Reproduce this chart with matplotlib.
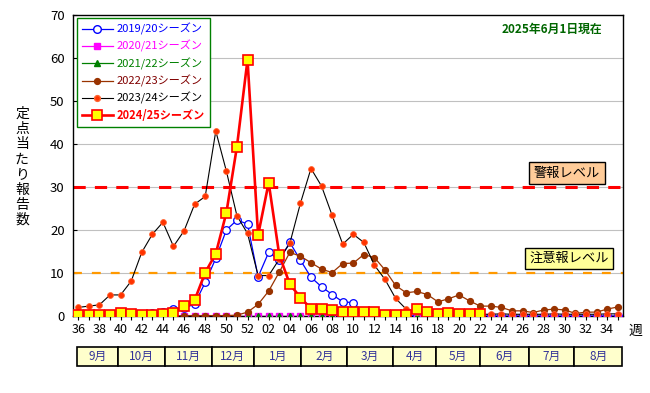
import numpy as np
import matplotlib
matplotlib.use("Agg")
import matplotlib.pyplot as plt
from matplotlib.patches import Rectangle
from matplotlib.lines import Line2D

plt.rcParams['font.family'] = ['Noto Sans CJK JP', 'DejaVu Sans']

# weeks 36..52 then 1..35
weeks = list(range(36, 53)) + list(range(1, 36))

s1920 = [0.2, 0.3, 0.3, 0.4, 0.3, 0.4, 0.5, 0.6, 0.9, 1.6, 1.8, 2.8, 7.8, 13.4, 20.0, 22.3, 21.4,
         9.1, 14.8, 13.0, 17.1, 13.0, 9.0, 6.8, 5.0, 3.3, 3.1, 0.5, 0.2, 0.1, 0.1, 0.1, 0.0, 0.0,
         0.0, 0.0, 0.0, 0.0, 0.0, 0.0, 0.0, 0.0, 0.0, 0.0, 0.0, 0.0, 0.0, 0.0, 0.0, 0.0, 0.0, 0.0]
s2021 = [0.0] * 52
s2122 = [0.0] * 52
s2223 = [0.0, 0.0, 0.0, 0.0, 0.0, 0.0, 0.0, 0.0, 0.0, 0.0, 0.1, 0.1, 0.1, 0.1, 0.1, 0.2, 0.9,
         2.7, 5.8, 10.2, 14.8, 13.9, 12.4, 10.9, 10.1, 12.2, 12.3, 14.3, 13.6, 10.7, 7.1, 5.4, 5.7,
         5.0, 3.3, 4.0, 4.9, 3.5, 2.3, 2.3, 2.0, 1.2, 1.2, 0.8, 1.4, 1.6, 1.4, 0.6, 0.9, 0.9, 1.6, 2.1]
s2324 = [2.0, 2.3, 2.6, 4.9, 4.9, 8.1, 14.8, 19.0, 21.8, 16.2, 19.8, 26.0, 27.8, 43.0, 33.7, 23.3, 19.2,
         9.4, 9.4, 13.2, 16.9, 26.2, 34.3, 30.2, 23.4, 16.7, 19.0, 17.1, 11.8, 8.5, 4.1, 1.6, 1.0,
         0.7, 0.5, 0.4, 0.4, 0.4, 0.4, 0.4, 0.5, 0.4, 0.4, 0.4, 0.4, 0.5, 0.4, 0.4, 0.4, 0.4, 0.5, 0.5]
s2425 = [0.2, 0.2, 0.2, 0.3, 0.6, 0.5, 0.3, 0.3, 0.5, 0.6, 2.4, 3.7, 10.1, 14.5, 24.0, 39.4, 59.6,
         18.8, 31.0, 14.2, 7.4, 4.3, 1.7, 1.7, 1.3, 0.9, 0.9, 0.9, 0.9, 0.3, 0.3, 0.3, 1.6,
         1.0, 0.5, 0.8, 0.4, 0.4, 0.4]

warn_level = 30
caution_level = 10

months = ["9月", "10月", "11月", "12月", "1月", "2月", "3月", "4月", "5月", "6月", "7月", "8月"]
month_edges = [-0.1, 3.8, 8.2, 12.6, 16.6, 21.1, 25.4, 29.8, 33.8, 38.0, 42.6, 46.9, 51.4]

fig = plt.figure(figsize=(6.5, 3.93), dpi=100)
ax = fig.add_axes([73/650, 1-316/393, 550/650, 301/393])

x = np.arange(len(weeks))

ax.set_ylim(0, 70)
ax.set_xlim(-0.5, 51.5)
ax.set_yticks(range(0, 71, 10))
for v in range(10, 70, 10):
    ax.axhline(v, color='#c0c0c0', lw=0.8, zorder=1)

ax.axhline(warn_level, color='#ff0000', lw=2.2, dashes=(4, 3), zorder=2)
ax.axhline(caution_level, color='#ff9900', lw=1.6, dashes=(4, 4.5), zorder=2)

ax.plot(x, s1920, color='#0000ff', lw=0.9, marker='o', ms=5.5, mfc='white', mec='#0000ff', mew=0.9, zorder=3)
ax.plot(x, s2021, color='#ff00ff', lw=0.9, marker='s', ms=4, mfc='#ff00ff', mec='#ff00ff', zorder=3)
ax.plot(x, s2122, color='#008000', lw=0.9, marker='^', ms=4.5, mfc='#008000', mec='#008000', zorder=3)
ax.plot(x, s2223, color='#993300', lw=0.9, marker='o', ms=4.2, mfc='#993300', mec='#993300', zorder=4)
ax.plot(x, s2324, color='#000000', lw=0.8, marker='o', ms=4.2, mfc='#ff3300', mec='#ff6633', mew=0.6, zorder=5)
ax.plot(np.arange(len(s2425)), s2425, color='#ff0000', lw=1.9, marker='s', ms=7, mfc='#ffff00',
        mec='#ff0000', mew=1.2, zorder=6)

ax.set_xticks(x)
ax.set_xticklabels(["%02d" % w if w % 2 == 0 else "" for w in weeks], fontsize=9)
ax.tick_params(axis='x', length=3, width=0.8, direction='out', pad=2)
ax.tick_params(axis='y', length=3, width=0.8, direction='in', labelsize=9.5, pad=6)
for sp in ax.spines.values():
    sp.set_linewidth(1.0)
    sp.set_color('black')

# legend
handles = [
    Line2D([], [], color='#0000ff', lw=0.9, marker='o', ms=5.5, mfc='white', mec='#0000ff'),
    Line2D([], [], color='#ff00ff', lw=0.9, marker='s', ms=4, mfc='#ff00ff', mec='#ff00ff'),
    Line2D([], [], color='#008000', lw=0.9, marker='^', ms=4.5, mfc='#008000', mec='#008000'),
    Line2D([], [], color='#993300', lw=0.9, marker='o', ms=4.2, mfc='#993300', mec='#993300'),
    Line2D([], [], color='#000000', lw=0.8, marker='o', ms=4.2, mfc='#ff3300', mec='#ff6633'),
    Line2D([], [], color='#ff0000', lw=1.9, marker='s', ms=7, mfc='#ffff00', mec='#ff0000', mew=1.2),
]
labels = ["2019/20シーズン", "2020/21シーズン", "2021/22シーズン", "2022/23シーズン",
          "2023/24シーズン", "2024/25シーズン"]
leg = ax.legend(handles, labels, loc='upper left', bbox_to_anchor=(0.007, 0.99), fontsize=8,
                frameon=True, fancybox=False, edgecolor='#008000', framealpha=1,
                handlelength=2.8, handletextpad=0.3, labelspacing=0.45, borderpad=0.45,
                borderaxespad=0)
leg.get_frame().set_linewidth(1.0)
leg.set_zorder(10)
text_colors = ['#0000ff', '#ff00ff', '#008000', '#800000', '#000000', '#ff0000']
for t, c in zip(leg.get_texts(), text_colors):
    t.set_color(c)
leg.get_texts()[-1].set_fontweight('bold')

fig.text(552/650, 1-29/393, "2025年6月1日現在", ha='center', va='center', fontsize=8.5,
         fontweight='bold', color='#006600')

ax.text(46.2, 33.2, "警報レベル", ha='center', va='center', fontsize=9.5, zorder=7,
        bbox=dict(boxstyle='square,pad=0.35', fc='#ffcc99', ec='black', lw=1))
ax.text(46.4, 13.4, "注意報レベル", ha='center', va='center', fontsize=9.5, zorder=7,
        bbox=dict(boxstyle='square,pad=0.3', fc='#ffff99', ec='black', lw=1))

# month band
tr = ax.get_xaxis_transform()
for i, m in enumerate(months):
    l, r = month_edges[i], month_edges[i+1]
    ax.add_patch(Rectangle((l, -0.166), r - l, 0.063, transform=tr, fc='#ffffcc', ec='black',
                           lw=1.2, clip_on=False))
    ax.text((l + r) / 2, -0.1345, m, transform=tr, ha='center', va='center', fontsize=8.5,
            color='#333399')

fig.text(22/650, 1-167/393, "\n".join("定点当たり報告数"), ha='center', va='center',
         fontsize=10, linespacing=1.1)
fig.text(635/650, 1-331/393, "週", ha='center', va='center', fontsize=10)

fig.savefig("out.png", dpi=100)
